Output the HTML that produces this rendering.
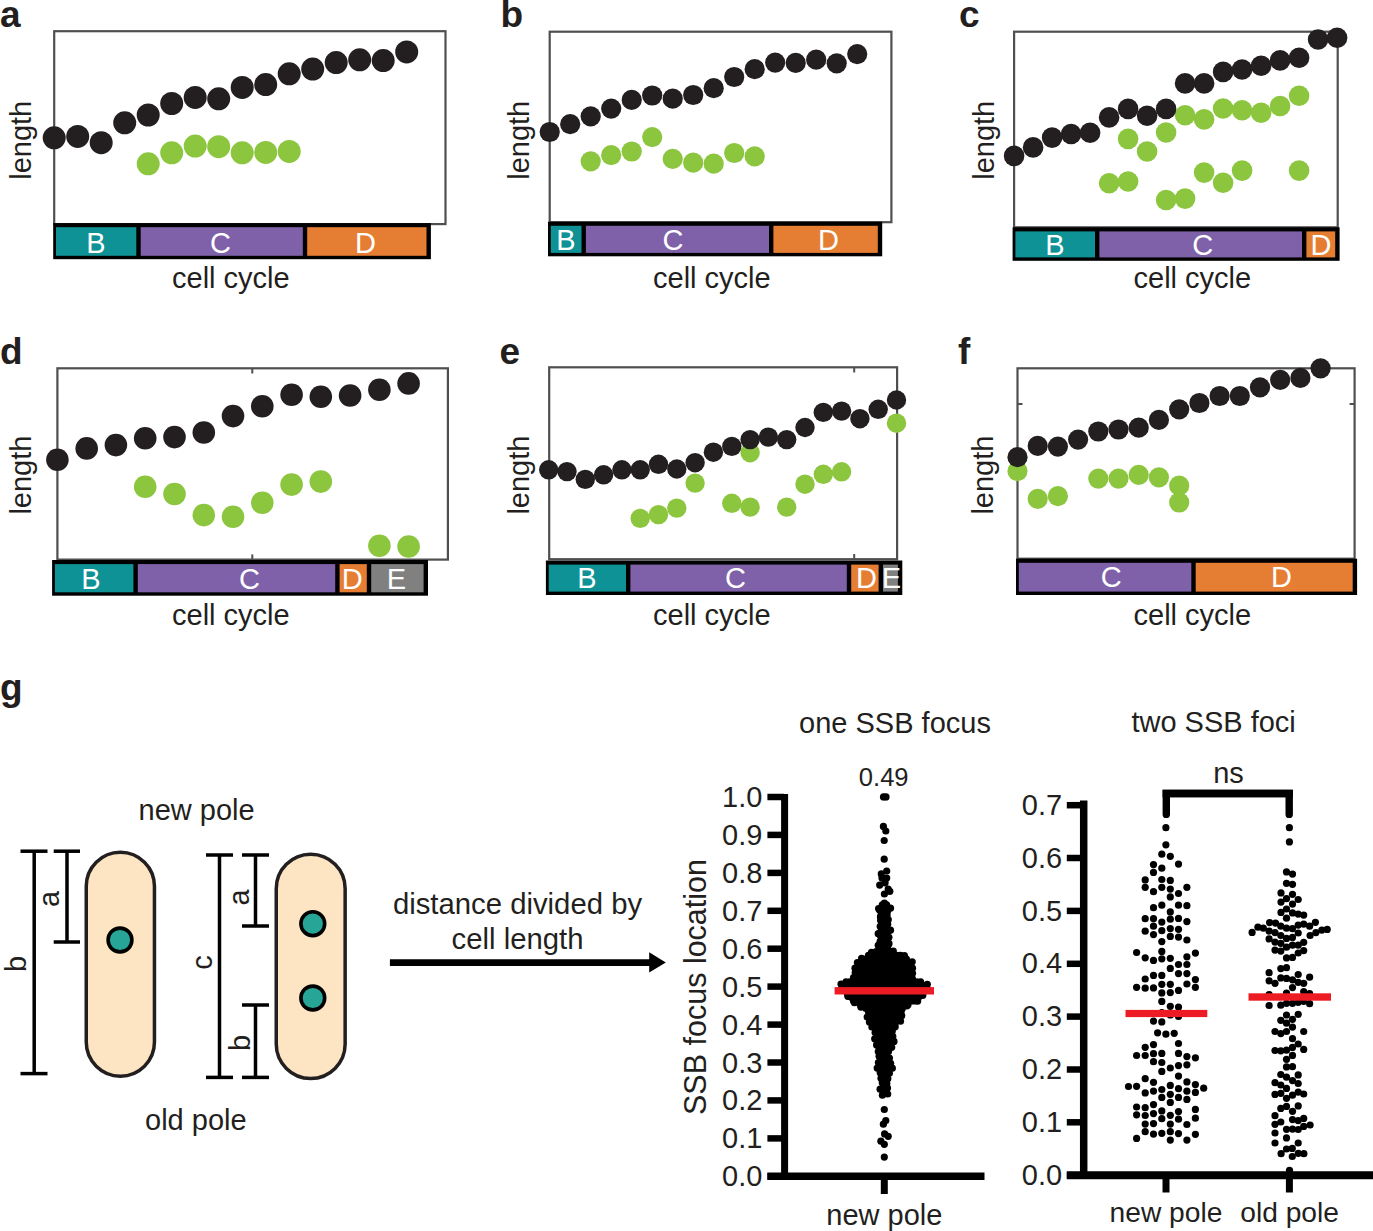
<!DOCTYPE html>
<html><head><meta charset="utf-8"><style>
html,body{margin:0;padding:0;background:#fff;}
svg{display:block;}
text{font-family:"Liberation Sans",sans-serif;}
</style></head><body>
<svg width="1373" height="1231" viewBox="0 0 1373 1231">
<rect width="1373" height="1231" fill="#fff"/>
<rect x="54.2" y="31.2" width="391.3" height="192.9" fill="none" stroke="#4f4f50" stroke-width="2.2"/>
<circle cx="148.2" cy="163.8" r="11.5" fill="#8cc63f"/>
<circle cx="171.7" cy="152.8" r="11.5" fill="#8cc63f"/>
<circle cx="195.2" cy="146.1" r="11.5" fill="#8cc63f"/>
<circle cx="218.7" cy="146.7" r="11.5" fill="#8cc63f"/>
<circle cx="242.2" cy="152.8" r="11.5" fill="#8cc63f"/>
<circle cx="265.7" cy="152.4" r="11.5" fill="#8cc63f"/>
<circle cx="289.2" cy="151.4" r="11.5" fill="#8cc63f"/>
<circle cx="54.2" cy="137.8" r="11.5" fill="#231f20"/>
<circle cx="77.7" cy="136.4" r="11.5" fill="#231f20"/>
<circle cx="101.2" cy="142.7" r="11.5" fill="#231f20"/>
<circle cx="124.7" cy="122.8" r="11.5" fill="#231f20"/>
<circle cx="148.2" cy="115" r="11.5" fill="#231f20"/>
<circle cx="171.7" cy="103.5" r="11.5" fill="#231f20"/>
<circle cx="195.2" cy="97.4" r="11.5" fill="#231f20"/>
<circle cx="218.7" cy="98.8" r="11.5" fill="#231f20"/>
<circle cx="242.2" cy="87.4" r="11.5" fill="#231f20"/>
<circle cx="265.7" cy="84.6" r="11.5" fill="#231f20"/>
<circle cx="289.2" cy="73.8" r="11.5" fill="#231f20"/>
<circle cx="312.7" cy="69.1" r="11.5" fill="#231f20"/>
<circle cx="336.2" cy="62.6" r="11.5" fill="#231f20"/>
<circle cx="359.7" cy="59.8" r="11.5" fill="#231f20"/>
<circle cx="383.2" cy="60.6" r="11.5" fill="#231f20"/>
<circle cx="406.7" cy="51.9" r="11.5" fill="#231f20"/>
<rect x="53.2" y="223.1" width="377.7" height="36.1" fill="#000"/>
<rect x="56.0" y="227.2" width="80.3" height="28.6" fill="#0e9295"/>
<text x="95.8" y="253.0" font-size="29" text-anchor="middle" font-weight="normal" fill="#fff" >B</text>
<rect x="140.7" y="227.2" width="162.1" height="28.6" fill="#7f61aa"/>
<text x="220.4" y="253.0" font-size="29" text-anchor="middle" font-weight="normal" fill="#fff" >C</text>
<rect x="307.2" y="227.2" width="119.3" height="28.6" fill="#e57d32"/>
<text x="365.4" y="253.0" font-size="29" text-anchor="middle" font-weight="normal" fill="#fff" >D</text>
<text x="0.0" y="26.7" font-size="37" text-anchor="start" font-weight="bold" fill="#231f20" >a</text>
<text x="172.0" y="287.9" font-size="29" text-anchor="start" font-weight="normal" fill="#231f20" >cell cycle</text>
<text x="0.0" y="0.0" font-size="29" text-anchor="middle" font-weight="normal" fill="#231f20" transform="translate(30.9,140.3) rotate(-90)">length</text>
<rect x="549.7" y="31.7" width="341.69999999999993" height="190.5" fill="none" stroke="#4f4f50" stroke-width="2.2"/>
<circle cx="590.7" cy="161.3" r="10.1" fill="#8cc63f"/>
<circle cx="611.2" cy="155.2" r="10.1" fill="#8cc63f"/>
<circle cx="631.7" cy="151.5" r="10.1" fill="#8cc63f"/>
<circle cx="652.2" cy="137.1" r="10.1" fill="#8cc63f"/>
<circle cx="672.7" cy="158.8" r="10.1" fill="#8cc63f"/>
<circle cx="693.2" cy="162.7" r="10.1" fill="#8cc63f"/>
<circle cx="713.7" cy="163.7" r="10.1" fill="#8cc63f"/>
<circle cx="734.2" cy="153.0" r="10.1" fill="#8cc63f"/>
<circle cx="754.7" cy="156.4" r="10.1" fill="#8cc63f"/>
<circle cx="549.7" cy="132.0" r="10.1" fill="#231f20"/>
<circle cx="570.2" cy="124.2" r="10.1" fill="#231f20"/>
<circle cx="590.7" cy="116.4" r="10.1" fill="#231f20"/>
<circle cx="611.2" cy="108.6" r="10.1" fill="#231f20"/>
<circle cx="631.7" cy="99.9" r="10.1" fill="#231f20"/>
<circle cx="652.2" cy="95.5" r="10.1" fill="#231f20"/>
<circle cx="672.7" cy="98.7" r="10.1" fill="#231f20"/>
<circle cx="693.2" cy="95.0" r="10.1" fill="#231f20"/>
<circle cx="713.7" cy="88.2" r="10.1" fill="#231f20"/>
<circle cx="734.2" cy="77.0" r="10.1" fill="#231f20"/>
<circle cx="754.7" cy="69.2" r="10.1" fill="#231f20"/>
<circle cx="775.2" cy="62.6" r="10.1" fill="#231f20"/>
<circle cx="795.7" cy="62.9" r="10.1" fill="#231f20"/>
<circle cx="816.2" cy="59.7" r="10.1" fill="#231f20"/>
<circle cx="836.7" cy="63.3" r="10.1" fill="#231f20"/>
<circle cx="857.2" cy="54.1" r="10.1" fill="#231f20"/>
<rect x="548.0" y="221.7" width="334.2" height="34.6" fill="#000"/>
<rect x="550.8" y="225.8" width="30.7" height="27.1" fill="#0e9295"/>
<text x="565.9" y="250.2" font-size="29" text-anchor="middle" font-weight="normal" fill="#fff" >B</text>
<rect x="585.9" y="225.8" width="183.1" height="27.1" fill="#7f61aa"/>
<text x="673.1" y="250.2" font-size="29" text-anchor="middle" font-weight="normal" fill="#fff" >C</text>
<rect x="773.4" y="225.8" width="104.4" height="27.1" fill="#e57d32"/>
<text x="828.6" y="250.2" font-size="29" text-anchor="middle" font-weight="normal" fill="#fff" >D</text>
<text x="500.5" y="26.7" font-size="37" text-anchor="start" font-weight="bold" fill="#231f20" >b</text>
<text x="653.0" y="287.5" font-size="29" text-anchor="start" font-weight="normal" fill="#231f20" >cell cycle</text>
<text x="0.0" y="0.0" font-size="29" text-anchor="middle" font-weight="normal" fill="#231f20" transform="translate(529.1,140.3) rotate(-90)">length</text>
<rect x="1014.1" y="31.7" width="323.6" height="195.60000000000002" fill="none" stroke="#4f4f50" stroke-width="2.2"/>
<circle cx="1128.1" cy="138.9" r="10.3" fill="#8cc63f"/>
<circle cx="1147.1" cy="151.5" r="10.3" fill="#8cc63f"/>
<circle cx="1166.1" cy="132.5" r="10.3" fill="#8cc63f"/>
<circle cx="1185.1" cy="115.3" r="10.3" fill="#8cc63f"/>
<circle cx="1204.1" cy="119.4" r="10.3" fill="#8cc63f"/>
<circle cx="1223.1" cy="108.5" r="10.3" fill="#8cc63f"/>
<circle cx="1242.1" cy="110.2" r="10.3" fill="#8cc63f"/>
<circle cx="1261.1" cy="112.8" r="10.3" fill="#8cc63f"/>
<circle cx="1280.1" cy="106.0" r="10.3" fill="#8cc63f"/>
<circle cx="1299.1" cy="95.8" r="10.3" fill="#8cc63f"/>
<circle cx="1109.1" cy="183.2" r="10.3" fill="#8cc63f"/>
<circle cx="1128.1" cy="181.5" r="10.3" fill="#8cc63f"/>
<circle cx="1166.1" cy="200.0" r="10.3" fill="#8cc63f"/>
<circle cx="1185.1" cy="198.6" r="10.3" fill="#8cc63f"/>
<circle cx="1204.1" cy="172.6" r="10.3" fill="#8cc63f"/>
<circle cx="1223.1" cy="182.8" r="10.3" fill="#8cc63f"/>
<circle cx="1242.1" cy="170.6" r="10.3" fill="#8cc63f"/>
<circle cx="1299.1" cy="170.6" r="10.3" fill="#8cc63f"/>
<circle cx="1014.1" cy="155.9" r="10.3" fill="#231f20"/>
<circle cx="1033.1" cy="147.4" r="10.3" fill="#231f20"/>
<circle cx="1052.1" cy="137.6" r="10.3" fill="#231f20"/>
<circle cx="1071.1" cy="134.0" r="10.3" fill="#231f20"/>
<circle cx="1090.1" cy="132.8" r="10.3" fill="#231f20"/>
<circle cx="1109.1" cy="117.4" r="10.3" fill="#231f20"/>
<circle cx="1128.1" cy="108.9" r="10.3" fill="#231f20"/>
<circle cx="1147.1" cy="115.7" r="10.3" fill="#231f20"/>
<circle cx="1166.1" cy="108.9" r="10.3" fill="#231f20"/>
<circle cx="1185.1" cy="83.4" r="10.3" fill="#231f20"/>
<circle cx="1204.1" cy="83.4" r="10.3" fill="#231f20"/>
<circle cx="1223.1" cy="71.9" r="10.3" fill="#231f20"/>
<circle cx="1242.1" cy="69.5" r="10.3" fill="#231f20"/>
<circle cx="1261.1" cy="65.8" r="10.3" fill="#231f20"/>
<circle cx="1280.1" cy="60.4" r="10.3" fill="#231f20"/>
<circle cx="1299.1" cy="57.8" r="10.3" fill="#231f20"/>
<circle cx="1318.1" cy="39.5" r="10.3" fill="#231f20"/>
<circle cx="1337.1" cy="37.8" r="10.3" fill="#231f20"/>
<rect x="1012.6" y="227.3" width="327.0" height="33.5" fill="#000"/>
<rect x="1015.4" y="231.4" width="79.6" height="26.0" fill="#0e9295"/>
<text x="1054.9" y="255.0" font-size="29" text-anchor="middle" font-weight="normal" fill="#fff" >B</text>
<rect x="1099.4" y="231.4" width="202.6" height="26.0" fill="#7f61aa"/>
<text x="1202.7" y="255.0" font-size="29" text-anchor="middle" font-weight="normal" fill="#fff" >C</text>
<rect x="1306.4" y="231.4" width="28.8" height="26.0" fill="#e57d32"/>
<text x="1320.9" y="255.0" font-size="29" text-anchor="middle" font-weight="normal" fill="#fff" >D</text>
<text x="959.0" y="26.7" font-size="37" text-anchor="start" font-weight="bold" fill="#231f20" >c</text>
<text x="1133.5" y="287.6" font-size="29" text-anchor="start" font-weight="normal" fill="#231f20" >cell cycle</text>
<text x="0.0" y="0.0" font-size="29" text-anchor="middle" font-weight="normal" fill="#231f20" transform="translate(994,140.3) rotate(-90)">length</text>
<rect x="57.4" y="368.3" width="390.5" height="191.3" fill="none" stroke="#4f4f50" stroke-width="2.2"/>
<line x1="252.3" y1="368.3" x2="252.3" y2="373.5" stroke="#4f4f50" stroke-width="2"/>
<line x1="252.3" y1="559.6" x2="252.3" y2="554.4" stroke="#4f4f50" stroke-width="2"/>
<circle cx="145.2" cy="486.7" r="11.3" fill="#8cc63f"/>
<circle cx="174.5" cy="494.0" r="11.3" fill="#8cc63f"/>
<circle cx="203.8" cy="515.1" r="11.3" fill="#8cc63f"/>
<circle cx="233.0" cy="516.8" r="11.3" fill="#8cc63f"/>
<circle cx="262.3" cy="502.7" r="11.3" fill="#8cc63f"/>
<circle cx="291.6" cy="484.6" r="11.3" fill="#8cc63f"/>
<circle cx="320.8" cy="481.6" r="11.3" fill="#8cc63f"/>
<circle cx="379.4" cy="545.8" r="11.3" fill="#8cc63f"/>
<circle cx="408.6" cy="546.5" r="11.3" fill="#8cc63f"/>
<circle cx="57.4" cy="459.7" r="11.3" fill="#231f20"/>
<circle cx="86.7" cy="448.4" r="11.3" fill="#231f20"/>
<circle cx="115.9" cy="445.1" r="11.3" fill="#231f20"/>
<circle cx="145.2" cy="438.3" r="11.3" fill="#231f20"/>
<circle cx="174.5" cy="437.1" r="11.3" fill="#231f20"/>
<circle cx="203.8" cy="432.5" r="11.3" fill="#231f20"/>
<circle cx="233.0" cy="416.1" r="11.3" fill="#231f20"/>
<circle cx="262.3" cy="406.3" r="11.3" fill="#231f20"/>
<circle cx="291.6" cy="394.7" r="11.3" fill="#231f20"/>
<circle cx="320.8" cy="396.7" r="11.3" fill="#231f20"/>
<circle cx="350.1" cy="395.5" r="11.3" fill="#231f20"/>
<circle cx="379.4" cy="389.7" r="11.3" fill="#231f20"/>
<circle cx="408.6" cy="383.4" r="11.3" fill="#231f20"/>
<rect x="52.1" y="560" width="375.9" height="35.7" fill="#000"/>
<rect x="54.9" y="564.1" width="78.5" height="28.2" fill="#0e9295"/>
<text x="90.8" y="589.1" font-size="29" text-anchor="middle" font-weight="normal" fill="#fff" >B</text>
<rect x="137.8" y="564.1" width="197.4" height="28.2" fill="#7f61aa"/>
<text x="249.5" y="589.1" font-size="29" text-anchor="middle" font-weight="normal" fill="#fff" >C</text>
<rect x="339.6" y="564.1" width="27.2" height="28.2" fill="#e57d32"/>
<text x="352.2" y="589.1" font-size="29" text-anchor="middle" font-weight="normal" fill="#fff" >D</text>
<rect x="371.2" y="564.1" width="52.4" height="28.2" fill="#808080"/>
<text x="396.5" y="589.1" font-size="29" text-anchor="middle" font-weight="normal" fill="#fff" >E</text>
<text x="0.0" y="364.0" font-size="37" text-anchor="start" font-weight="bold" fill="#231f20" >d</text>
<text x="172.0" y="625.3" font-size="29" text-anchor="start" font-weight="normal" fill="#231f20" >cell cycle</text>
<text x="0.0" y="0.0" font-size="29" text-anchor="middle" font-weight="normal" fill="#231f20" transform="translate(30.9,475.1) rotate(-90)">length</text>
<rect x="549.2" y="367.3" width="347.9" height="191.90000000000003" fill="none" stroke="#4f4f50" stroke-width="2.2"/>
<line x1="854.2" y1="367.3" x2="854.2" y2="372.5" stroke="#4f4f50" stroke-width="2"/>
<line x1="854.2" y1="559.2" x2="854.2" y2="554" stroke="#4f4f50" stroke-width="2"/>
<circle cx="640.2" cy="518.4" r="9.7" fill="#8cc63f"/>
<circle cx="658.5" cy="514.6" r="9.7" fill="#8cc63f"/>
<circle cx="676.8" cy="508.1" r="9.7" fill="#8cc63f"/>
<circle cx="695.1" cy="483.1" r="9.7" fill="#8cc63f"/>
<circle cx="731.8" cy="503.3" r="9.7" fill="#8cc63f"/>
<circle cx="750.1" cy="507.1" r="9.7" fill="#8cc63f"/>
<circle cx="750.1" cy="452.7" r="9.7" fill="#8cc63f"/>
<circle cx="786.7" cy="507.1" r="9.7" fill="#8cc63f"/>
<circle cx="805.0" cy="484.2" r="9.7" fill="#8cc63f"/>
<circle cx="823.3" cy="474.3" r="9.7" fill="#8cc63f"/>
<circle cx="841.6" cy="471.8" r="9.7" fill="#8cc63f"/>
<circle cx="896.5" cy="423.2" r="9.7" fill="#8cc63f"/>
<circle cx="548.7" cy="469.8" r="9.7" fill="#231f20"/>
<circle cx="567.0" cy="471.6" r="9.7" fill="#231f20"/>
<circle cx="585.3" cy="479.4" r="9.7" fill="#231f20"/>
<circle cx="603.6" cy="474.8" r="9.7" fill="#231f20"/>
<circle cx="621.9" cy="469.8" r="9.7" fill="#231f20"/>
<circle cx="640.2" cy="469.8" r="9.7" fill="#231f20"/>
<circle cx="658.5" cy="464.3" r="9.7" fill="#231f20"/>
<circle cx="676.8" cy="469.0" r="9.7" fill="#231f20"/>
<circle cx="695.1" cy="462.7" r="9.7" fill="#231f20"/>
<circle cx="713.4" cy="452.2" r="9.7" fill="#231f20"/>
<circle cx="731.8" cy="446.4" r="9.7" fill="#231f20"/>
<circle cx="750.1" cy="439.6" r="9.7" fill="#231f20"/>
<circle cx="768.4" cy="437.1" r="9.7" fill="#231f20"/>
<circle cx="786.7" cy="439.6" r="9.7" fill="#231f20"/>
<circle cx="805.0" cy="427.5" r="9.7" fill="#231f20"/>
<circle cx="823.3" cy="412.4" r="9.7" fill="#231f20"/>
<circle cx="841.6" cy="411.1" r="9.7" fill="#231f20"/>
<circle cx="859.9" cy="418.7" r="9.7" fill="#231f20"/>
<circle cx="878.2" cy="409.3" r="9.7" fill="#231f20"/>
<circle cx="896.5" cy="400.0" r="9.7" fill="#231f20"/>
<rect x="545.9" y="560.5" width="356.4" height="34.5" fill="#000"/>
<rect x="548.7" y="564.6" width="77.3" height="27.0" fill="#0e9295"/>
<text x="587.0" y="588.0" font-size="29" text-anchor="middle" font-weight="normal" fill="#fff" >B</text>
<rect x="630.4" y="564.6" width="216.4" height="27.0" fill="#7f61aa"/>
<text x="735.6" y="588.0" font-size="29" text-anchor="middle" font-weight="normal" fill="#fff" >C</text>
<rect x="851.2" y="564.6" width="27.4" height="27.0" fill="#e57d32"/>
<text x="866.4" y="588.0" font-size="29" text-anchor="middle" font-weight="normal" fill="#fff" >D</text>
<rect x="883.0" y="564.6" width="14.9" height="27.0" fill="#808080"/>
<text x="891.5" y="588.0" font-size="29" text-anchor="middle" font-weight="normal" fill="#fff" >E</text>
<text x="499.5" y="364.0" font-size="37" text-anchor="start" font-weight="bold" fill="#231f20" >e</text>
<text x="653.0" y="625.3" font-size="29" text-anchor="start" font-weight="normal" fill="#231f20" >cell cycle</text>
<text x="0.0" y="0.0" font-size="29" text-anchor="middle" font-weight="normal" fill="#231f20" transform="translate(528.8,475.1) rotate(-90)">length</text>
<rect x="1017.5" y="368.3" width="337.0999999999999" height="190.40000000000003" fill="none" stroke="#4f4f50" stroke-width="2.2"/>
<line x1="1017.5" y1="404" x2="1022.5" y2="404" stroke="#4f4f50" stroke-width="2"/>
<line x1="1354.6" y1="404" x2="1349.6" y2="404" stroke="#4f4f50" stroke-width="2"/>
<circle cx="1017.5" cy="471.1" r="10.1" fill="#8cc63f"/>
<circle cx="1037.7" cy="498.8" r="10.1" fill="#8cc63f"/>
<circle cx="1057.9" cy="496.2" r="10.1" fill="#8cc63f"/>
<circle cx="1098.3" cy="478.6" r="10.1" fill="#8cc63f"/>
<circle cx="1118.5" cy="478.6" r="10.1" fill="#8cc63f"/>
<circle cx="1138.7" cy="474.8" r="10.1" fill="#8cc63f"/>
<circle cx="1158.9" cy="477.4" r="10.1" fill="#8cc63f"/>
<circle cx="1179.2" cy="485.7" r="10.1" fill="#8cc63f"/>
<circle cx="1179.2" cy="502.5" r="10.1" fill="#8cc63f"/>
<circle cx="1017.5" cy="457.2" r="10.1" fill="#231f20"/>
<circle cx="1037.7" cy="445.9" r="10.1" fill="#231f20"/>
<circle cx="1057.9" cy="446.6" r="10.1" fill="#231f20"/>
<circle cx="1078.1" cy="439.6" r="10.1" fill="#231f20"/>
<circle cx="1098.3" cy="431.5" r="10.1" fill="#231f20"/>
<circle cx="1118.5" cy="429.5" r="10.1" fill="#231f20"/>
<circle cx="1138.7" cy="427.7" r="10.1" fill="#231f20"/>
<circle cx="1158.9" cy="419.9" r="10.1" fill="#231f20"/>
<circle cx="1179.2" cy="409.3" r="10.1" fill="#231f20"/>
<circle cx="1199.4" cy="403.0" r="10.1" fill="#231f20"/>
<circle cx="1219.6" cy="396.0" r="10.1" fill="#231f20"/>
<circle cx="1239.8" cy="396.0" r="10.1" fill="#231f20"/>
<circle cx="1260.0" cy="387.4" r="10.1" fill="#231f20"/>
<circle cx="1280.2" cy="379.9" r="10.1" fill="#231f20"/>
<circle cx="1300.4" cy="377.9" r="10.1" fill="#231f20"/>
<circle cx="1320.6" cy="368.3" r="10.1" fill="#231f20"/>
<rect x="1016.0" y="558.7" width="341.1" height="36.3" fill="#000"/>
<rect x="1018.8" y="562.8" width="172.5" height="28.8" fill="#7f61aa"/>
<text x="1111.2" y="586.5" font-size="29" text-anchor="middle" font-weight="normal" fill="#fff" >C</text>
<rect x="1195.7" y="562.8" width="157.0" height="28.8" fill="#e57d32"/>
<text x="1281.5" y="586.5" font-size="29" text-anchor="middle" font-weight="normal" fill="#fff" >D</text>
<text x="958.0" y="364.0" font-size="37" text-anchor="start" font-weight="bold" fill="#231f20" >f</text>
<text x="1133.5" y="625.3" font-size="29" text-anchor="start" font-weight="normal" fill="#231f20" >cell cycle</text>
<text x="0.0" y="0.0" font-size="29" text-anchor="middle" font-weight="normal" fill="#231f20" transform="translate(992.9,475.1) rotate(-90)">length</text>
<text x="0.0" y="699.5" font-size="37" text-anchor="start" font-weight="bold" fill="#231f20" >g</text>
<rect x="86.25" y="852.25" width="68.19999999999999" height="223.9000000000001" rx="34.099999999999994" ry="34.099999999999994" fill="#fde5c3" stroke="#231f20" stroke-width="3.5"/>
<rect x="276.25" y="854.25" width="68.89999999999998" height="224.29999999999995" rx="34.44999999999999" ry="34.44999999999999" fill="#fde5c3" stroke="#231f20" stroke-width="3.5"/>
<circle cx="120" cy="940" r="11.9" fill="#27a597" stroke="#000" stroke-width="3.6"/>
<circle cx="312.8" cy="923.7" r="11.9" fill="#27a597" stroke="#000" stroke-width="3.6"/>
<circle cx="312.8" cy="998" r="11.9" fill="#27a597" stroke="#000" stroke-width="3.6"/>
<line x1="34.2" y1="851.2" x2="34.2" y2="1073.6" stroke="#000" stroke-width="3.5"/>
<line x1="20.5" y1="851.2" x2="47.5" y2="851.2" stroke="#000" stroke-width="3.5"/>
<line x1="20.5" y1="1073.6" x2="47.5" y2="1073.6" stroke="#000" stroke-width="3.5"/>
<line x1="67" y1="851.2" x2="67" y2="942" stroke="#000" stroke-width="3.5"/>
<line x1="53.7" y1="851.2" x2="80" y2="851.2" stroke="#000" stroke-width="3.5"/>
<line x1="53.7" y1="942" x2="80" y2="942" stroke="#000" stroke-width="3.5"/>
<line x1="219.5" y1="855" x2="219.5" y2="1077.4" stroke="#000" stroke-width="3.5"/>
<line x1="206" y1="855" x2="233" y2="855" stroke="#000" stroke-width="3.5"/>
<line x1="206" y1="1077.4" x2="233" y2="1077.4" stroke="#000" stroke-width="3.5"/>
<line x1="255.5" y1="855" x2="255.5" y2="926" stroke="#000" stroke-width="3.5"/>
<line x1="242" y1="855" x2="269" y2="855" stroke="#000" stroke-width="3.5"/>
<line x1="242" y1="926" x2="269" y2="926" stroke="#000" stroke-width="3.5"/>
<line x1="255.5" y1="1005" x2="255.5" y2="1077.4" stroke="#000" stroke-width="3.5"/>
<line x1="242" y1="1005" x2="269" y2="1005" stroke="#000" stroke-width="3.5"/>
<line x1="242" y1="1077.4" x2="269" y2="1077.4" stroke="#000" stroke-width="3.5"/>
<text x="0.0" y="0.0" font-size="29" text-anchor="middle" font-weight="normal" fill="#231f20" transform="translate(58.5,899) rotate(-90)">a</text>
<text x="0.0" y="0.0" font-size="29" text-anchor="middle" font-weight="normal" fill="#231f20" transform="translate(25.5,964) rotate(-90)">b</text>
<text x="0.0" y="0.0" font-size="29" text-anchor="middle" font-weight="normal" fill="#231f20" transform="translate(211.5,962.5) rotate(-90)">c</text>
<text x="0.0" y="0.0" font-size="29" text-anchor="middle" font-weight="normal" fill="#231f20" transform="translate(248.5,897.5) rotate(-90)">a</text>
<text x="0.0" y="0.0" font-size="29" text-anchor="middle" font-weight="normal" fill="#231f20" transform="translate(249.5,1043) rotate(-90)">b</text>
<text x="138.6" y="820.0" font-size="29" text-anchor="start" font-weight="normal" fill="#231f20" >new pole</text>
<text x="145.0" y="1130.0" font-size="29" text-anchor="start" font-weight="normal" fill="#231f20" >old pole</text>
<text x="517.5" y="913.7" font-size="29.3" text-anchor="middle" font-weight="normal" fill="#231f20" >distance divided by</text>
<text x="517.5" y="948.7" font-size="29.3" text-anchor="middle" font-weight="normal" fill="#231f20" >cell length</text>
<line x1="389.9" y1="962.6" x2="652" y2="962.6" stroke="#000" stroke-width="6.7"/>
<polygon points="649.2,952.2 665.8,962.4 649.2,972.6" fill="#000"/>
<text x="895.0" y="732.5" font-size="29" text-anchor="middle" font-weight="normal" fill="#231f20" >one SSB focus</text>
<text x="883.7" y="785.8" font-size="25.6" text-anchor="middle" font-weight="normal" fill="#231f20" >0.49</text>
<line x1="784.6" y1="794" x2="784.6" y2="1180" stroke="#000" stroke-width="7"/>
<line x1="767.4" y1="797.0" x2="784" y2="797.0" stroke="#000" stroke-width="6.5"/>
<text x="762.4" y="807.0" font-size="29" text-anchor="end" font-weight="normal" fill="#231f20" >1.0</text>
<line x1="767.4" y1="834.9" x2="784" y2="834.9" stroke="#000" stroke-width="6.5"/>
<text x="762.4" y="844.9" font-size="29" text-anchor="end" font-weight="normal" fill="#231f20" >0.9</text>
<line x1="767.4" y1="872.9" x2="784" y2="872.9" stroke="#000" stroke-width="6.5"/>
<text x="762.4" y="882.9" font-size="29" text-anchor="end" font-weight="normal" fill="#231f20" >0.8</text>
<line x1="767.4" y1="910.8" x2="784" y2="910.8" stroke="#000" stroke-width="6.5"/>
<text x="762.4" y="920.8" font-size="29" text-anchor="end" font-weight="normal" fill="#231f20" >0.7</text>
<line x1="767.4" y1="948.7" x2="784" y2="948.7" stroke="#000" stroke-width="6.5"/>
<text x="762.4" y="958.7" font-size="29" text-anchor="end" font-weight="normal" fill="#231f20" >0.6</text>
<line x1="767.4" y1="986.6" x2="784" y2="986.6" stroke="#000" stroke-width="6.5"/>
<text x="762.4" y="996.6" font-size="29" text-anchor="end" font-weight="normal" fill="#231f20" >0.5</text>
<line x1="767.4" y1="1024.6" x2="784" y2="1024.6" stroke="#000" stroke-width="6.5"/>
<text x="762.4" y="1034.6" font-size="29" text-anchor="end" font-weight="normal" fill="#231f20" >0.4</text>
<line x1="767.4" y1="1062.5" x2="784" y2="1062.5" stroke="#000" stroke-width="6.5"/>
<text x="762.4" y="1072.5" font-size="29" text-anchor="end" font-weight="normal" fill="#231f20" >0.3</text>
<line x1="767.4" y1="1100.4" x2="784" y2="1100.4" stroke="#000" stroke-width="6.5"/>
<text x="762.4" y="1110.4" font-size="29" text-anchor="end" font-weight="normal" fill="#231f20" >0.2</text>
<line x1="767.4" y1="1138.4" x2="784" y2="1138.4" stroke="#000" stroke-width="6.5"/>
<text x="762.4" y="1148.4" font-size="29" text-anchor="end" font-weight="normal" fill="#231f20" >0.1</text>
<line x1="767.4" y1="1176.3" x2="784" y2="1176.3" stroke="#000" stroke-width="6.5"/>
<text x="762.4" y="1186.3" font-size="29" text-anchor="end" font-weight="normal" fill="#231f20" >0.0</text>
<line x1="767.4" y1="1176.3" x2="984.5" y2="1176.3" stroke="#000" stroke-width="7.5"/>
<line x1="884.3" y1="1176" x2="884.3" y2="1194" stroke="#000" stroke-width="7"/>
<text x="884.3" y="1224.8" font-size="29" text-anchor="middle" font-weight="normal" fill="#231f20" >new pole</text>
<text x="0.0" y="0.0" font-size="30.5" text-anchor="middle" font-weight="normal" fill="#231f20" transform="translate(705.5,987) rotate(-90)">SSB focus location</text>
<text x="1213.6" y="732.3" font-size="29" text-anchor="middle" font-weight="normal" fill="#231f20" >two SSB foci</text>
<text x="1228.5" y="783.0" font-size="29" text-anchor="middle" font-weight="normal" fill="#231f20" >ns</text>
<path d="M1166.3,814.4 V793.5 H1289.2 V814.4" fill="none" stroke="#000" stroke-width="7.4" stroke-linecap="round"/>
<path d="M1162.6,793.5 H1292.9" fill="none" stroke="#000" stroke-width="7.4"/>
<line x1="1083.7" y1="800.5" x2="1083.7" y2="1179" stroke="#000" stroke-width="7.5"/>
<line x1="1066.8" y1="1175.2" x2="1083" y2="1175.2" stroke="#000" stroke-width="6.5"/>
<text x="1062.2" y="1184.8" font-size="29" text-anchor="end" font-weight="normal" fill="#231f20" >0.0</text>
<line x1="1066.8" y1="1122.3" x2="1083" y2="1122.3" stroke="#000" stroke-width="6.5"/>
<text x="1062.2" y="1131.9" font-size="29" text-anchor="end" font-weight="normal" fill="#231f20" >0.1</text>
<line x1="1066.8" y1="1069.5" x2="1083" y2="1069.5" stroke="#000" stroke-width="6.5"/>
<text x="1062.2" y="1079.1" font-size="29" text-anchor="end" font-weight="normal" fill="#231f20" >0.2</text>
<line x1="1066.8" y1="1016.6" x2="1083" y2="1016.6" stroke="#000" stroke-width="6.5"/>
<text x="1062.2" y="1026.2" font-size="29" text-anchor="end" font-weight="normal" fill="#231f20" >0.3</text>
<line x1="1066.8" y1="963.8" x2="1083" y2="963.8" stroke="#000" stroke-width="6.5"/>
<text x="1062.2" y="973.4" font-size="29" text-anchor="end" font-weight="normal" fill="#231f20" >0.4</text>
<line x1="1066.8" y1="910.9" x2="1083" y2="910.9" stroke="#000" stroke-width="6.5"/>
<text x="1062.2" y="920.5" font-size="29" text-anchor="end" font-weight="normal" fill="#231f20" >0.5</text>
<line x1="1066.8" y1="858.0" x2="1083" y2="858.0" stroke="#000" stroke-width="6.5"/>
<text x="1062.2" y="867.6" font-size="29" text-anchor="end" font-weight="normal" fill="#231f20" >0.6</text>
<line x1="1066.8" y1="805.2" x2="1083" y2="805.2" stroke="#000" stroke-width="6.5"/>
<text x="1062.2" y="814.8" font-size="29" text-anchor="end" font-weight="normal" fill="#231f20" >0.7</text>
<line x1="1066.8" y1="1175.2" x2="1373" y2="1175.2" stroke="#000" stroke-width="8"/>
<line x1="1166.0" y1="1175" x2="1166.0" y2="1192.5" stroke="#000" stroke-width="7.0"/>
<line x1="1289.4" y1="1175" x2="1289.4" y2="1192.5" stroke="#000" stroke-width="7.0"/>
<text x="1166.0" y="1222.3" font-size="28.2" text-anchor="middle" font-weight="normal" fill="#231f20" >new pole</text>
<text x="1289.6" y="1222.3" font-size="28.2" text-anchor="middle" font-weight="normal" fill="#231f20" >old pole</text>
<g fill="#000">
<circle cx="1165.9" cy="827.7" r="3.6"/>
<circle cx="1165.9" cy="844.8" r="3.6"/>
<circle cx="1161.8" cy="854.2" r="3.6"/>
<circle cx="1170.3" cy="856.3" r="3.6"/>
<circle cx="1153.5" cy="864.6" r="3.6"/>
<circle cx="1178.5" cy="864.1" r="3.6"/>
<circle cx="1161.8" cy="868.2" r="3.6"/>
<circle cx="1153.5" cy="872.4" r="3.6"/>
<circle cx="1145.2" cy="879.9" r="3.6"/>
<circle cx="1161.8" cy="879.5" r="3.6"/>
<circle cx="1170.3" cy="880.4" r="3.6"/>
<circle cx="1145.2" cy="887.3" r="3.6"/>
<circle cx="1161.8" cy="887.3" r="3.6"/>
<circle cx="1170.3" cy="889.1" r="3.6"/>
<circle cx="1186.9" cy="887.3" r="3.6"/>
<circle cx="1153.5" cy="891.7" r="3.6"/>
<circle cx="1178.5" cy="893.5" r="3.6"/>
<circle cx="1170.3" cy="896.9" r="3.6"/>
<circle cx="1161.8" cy="905.2" r="3.6"/>
<circle cx="1153.5" cy="907.7" r="3.6"/>
<circle cx="1178.5" cy="905.2" r="3.6"/>
<circle cx="1186.9" cy="905.7" r="3.6"/>
<circle cx="1170.3" cy="911.9" r="3.6"/>
<circle cx="1145.2" cy="918.7" r="3.6"/>
<circle cx="1153.5" cy="918.7" r="3.6"/>
<circle cx="1161.8" cy="922.1" r="3.6"/>
<circle cx="1170.3" cy="919.2" r="3.6"/>
<circle cx="1178.5" cy="918.4" r="3.6"/>
<circle cx="1186.9" cy="921.6" r="3.6"/>
<circle cx="1153.5" cy="926.2" r="3.6"/>
<circle cx="1145.2" cy="931.2" r="3.6"/>
<circle cx="1161.8" cy="930.7" r="3.6"/>
<circle cx="1170.3" cy="928.6" r="3.6"/>
<circle cx="1178.5" cy="929.3" r="3.6"/>
<circle cx="1153.5" cy="934.6" r="3.6"/>
<circle cx="1170.3" cy="936.4" r="3.6"/>
<circle cx="1178.5" cy="937.1" r="3.6"/>
<circle cx="1186.9" cy="940.0" r="3.6"/>
<circle cx="1161.8" cy="941.6" r="3.6"/>
<circle cx="1136.6" cy="952.5" r="3.6"/>
<circle cx="1161.8" cy="951.4" r="3.6"/>
<circle cx="1195.4" cy="953.1" r="3.6"/>
<circle cx="1145.2" cy="957.8" r="3.6"/>
<circle cx="1153.5" cy="960.4" r="3.6"/>
<circle cx="1161.8" cy="958.8" r="3.6"/>
<circle cx="1170.3" cy="958.3" r="3.6"/>
<circle cx="1186.9" cy="956.8" r="3.6"/>
<circle cx="1178.5" cy="964.5" r="3.6"/>
<circle cx="1186.9" cy="964.5" r="3.6"/>
<circle cx="1170.3" cy="968.4" r="3.6"/>
<circle cx="1153.5" cy="975.4" r="3.6"/>
<circle cx="1161.8" cy="975.4" r="3.6"/>
<circle cx="1178.5" cy="973.6" r="3.6"/>
<circle cx="1186.9" cy="973.6" r="3.6"/>
<circle cx="1145.2" cy="979.0" r="3.6"/>
<circle cx="1195.4" cy="979.6" r="3.6"/>
<circle cx="1136.6" cy="987.3" r="3.6"/>
<circle cx="1145.2" cy="988.2" r="3.6"/>
<circle cx="1153.5" cy="987.9" r="3.6"/>
<circle cx="1161.8" cy="984.3" r="3.6"/>
<circle cx="1170.3" cy="984.3" r="3.6"/>
<circle cx="1186.9" cy="984.0" r="3.6"/>
<circle cx="1195.4" cy="987.3" r="3.6"/>
<circle cx="1161.8" cy="992.9" r="3.6"/>
<circle cx="1170.3" cy="992.6" r="3.6"/>
<circle cx="1178.5" cy="990.4" r="3.6"/>
<circle cx="1161.8" cy="1001.4" r="3.6"/>
<circle cx="1170.3" cy="1006.3" r="3.6"/>
<circle cx="1178.5" cy="1007.0" r="3.6"/>
<circle cx="1161.8" cy="1012.6" r="3.6"/>
<circle cx="1170.3" cy="1015.0" r="3.6"/>
<circle cx="1178.5" cy="1016.5" r="3.6"/>
<circle cx="1153.5" cy="1021.1" r="3.6"/>
<circle cx="1161.8" cy="1021.9" r="3.6"/>
<circle cx="1157.6" cy="1032.8" r="3.6"/>
<circle cx="1165.9" cy="1034.2" r="3.6"/>
<circle cx="1174.2" cy="1033.3" r="3.6"/>
<circle cx="1153.5" cy="1044.6" r="3.6"/>
<circle cx="1145.2" cy="1047.3" r="3.6"/>
<circle cx="1178.5" cy="1043.5" r="3.6"/>
<circle cx="1136.6" cy="1055.5" r="3.6"/>
<circle cx="1145.2" cy="1055.5" r="3.6"/>
<circle cx="1153.5" cy="1053.7" r="3.6"/>
<circle cx="1161.8" cy="1053.4" r="3.6"/>
<circle cx="1178.5" cy="1053.4" r="3.6"/>
<circle cx="1186.9" cy="1056.6" r="3.6"/>
<circle cx="1195.4" cy="1057.8" r="3.6"/>
<circle cx="1153.5" cy="1061.7" r="3.6"/>
<circle cx="1161.8" cy="1062.5" r="3.6"/>
<circle cx="1170.3" cy="1068.0" r="3.6"/>
<circle cx="1178.5" cy="1065.6" r="3.6"/>
<circle cx="1186.9" cy="1064.8" r="3.6"/>
<circle cx="1161.8" cy="1071.4" r="3.6"/>
<circle cx="1178.5" cy="1076.1" r="3.6"/>
<circle cx="1145.2" cy="1078.7" r="3.6"/>
<circle cx="1153.5" cy="1082.3" r="3.6"/>
<circle cx="1186.9" cy="1081.9" r="3.6"/>
<circle cx="1128.5" cy="1086.5" r="3.6"/>
<circle cx="1136.6" cy="1086.3" r="3.6"/>
<circle cx="1170.3" cy="1085.4" r="3.6"/>
<circle cx="1195.4" cy="1084.6" r="3.6"/>
<circle cx="1203.7" cy="1088.2" r="3.6"/>
<circle cx="1161.8" cy="1089.5" r="3.6"/>
<circle cx="1178.5" cy="1088.7" r="3.6"/>
<circle cx="1145.2" cy="1092.9" r="3.6"/>
<circle cx="1153.5" cy="1091.1" r="3.6"/>
<circle cx="1170.3" cy="1094.3" r="3.6"/>
<circle cx="1186.9" cy="1091.2" r="3.6"/>
<circle cx="1195.4" cy="1092.4" r="3.6"/>
<circle cx="1161.8" cy="1097.4" r="3.6"/>
<circle cx="1178.5" cy="1097.4" r="3.6"/>
<circle cx="1186.9" cy="1099.4" r="3.6"/>
<circle cx="1170.3" cy="1102.4" r="3.6"/>
<circle cx="1153.5" cy="1104.6" r="3.6"/>
<circle cx="1136.6" cy="1107.0" r="3.6"/>
<circle cx="1145.2" cy="1107.7" r="3.6"/>
<circle cx="1195.4" cy="1109.4" r="3.6"/>
<circle cx="1161.8" cy="1110.9" r="3.6"/>
<circle cx="1178.5" cy="1111.6" r="3.6"/>
<circle cx="1136.6" cy="1114.8" r="3.6"/>
<circle cx="1145.2" cy="1115.5" r="3.6"/>
<circle cx="1153.5" cy="1113.6" r="3.6"/>
<circle cx="1170.3" cy="1115.3" r="3.6"/>
<circle cx="1161.8" cy="1118.7" r="3.6"/>
<circle cx="1178.5" cy="1119.2" r="3.6"/>
<circle cx="1195.4" cy="1118.2" r="3.6"/>
<circle cx="1145.2" cy="1124.1" r="3.6"/>
<circle cx="1153.5" cy="1123.6" r="3.6"/>
<circle cx="1170.3" cy="1124.1" r="3.6"/>
<circle cx="1186.9" cy="1124.5" r="3.6"/>
<circle cx="1145.2" cy="1131.7" r="3.6"/>
<circle cx="1153.5" cy="1134.1" r="3.6"/>
<circle cx="1161.8" cy="1133.3" r="3.6"/>
<circle cx="1170.3" cy="1131.7" r="3.6"/>
<circle cx="1178.5" cy="1133.6" r="3.6"/>
<circle cx="1195.4" cy="1134.3" r="3.6"/>
<circle cx="1136.6" cy="1138.4" r="3.6"/>
<circle cx="1170.3" cy="1140.1" r="3.6"/>
<circle cx="1186.9" cy="1140.1" r="3.6"/>
<circle cx="1289.4" cy="827.7" r="3.6"/>
<circle cx="1289.4" cy="841.9" r="3.6"/>
<circle cx="1286.5" cy="871.9" r="3.6"/>
<circle cx="1292.5" cy="874.1" r="3.6"/>
<circle cx="1286.5" cy="883.3" r="3.6"/>
<circle cx="1292.5" cy="884.3" r="3.6"/>
<circle cx="1281.0" cy="892.9" r="3.6"/>
<circle cx="1292.5" cy="894.3" r="3.6"/>
<circle cx="1286.5" cy="898.7" r="3.6"/>
<circle cx="1298.2" cy="899.5" r="3.6"/>
<circle cx="1281.0" cy="902.1" r="3.6"/>
<circle cx="1292.5" cy="904.1" r="3.6"/>
<circle cx="1286.5" cy="909.0" r="3.6"/>
<circle cx="1281.0" cy="912.4" r="3.6"/>
<circle cx="1292.5" cy="912.9" r="3.6"/>
<circle cx="1298.2" cy="914.1" r="3.6"/>
<circle cx="1303.7" cy="915.1" r="3.6"/>
<circle cx="1286.5" cy="918.2" r="3.6"/>
<circle cx="1269.6" cy="922.6" r="3.6"/>
<circle cx="1275.5" cy="923.1" r="3.6"/>
<circle cx="1315.4" cy="922.3" r="3.6"/>
<circle cx="1303.7" cy="924.1" r="3.6"/>
<circle cx="1298.2" cy="925.1" r="3.6"/>
<circle cx="1257.9" cy="927.2" r="3.6"/>
<circle cx="1263.3" cy="928.2" r="3.6"/>
<circle cx="1252.1" cy="932.4" r="3.6"/>
<circle cx="1269.1" cy="931.1" r="3.6"/>
<circle cx="1275.0" cy="932.6" r="3.6"/>
<circle cx="1280.8" cy="926.2" r="3.6"/>
<circle cx="1286.5" cy="928.2" r="3.6"/>
<circle cx="1292.5" cy="928.7" r="3.6"/>
<circle cx="1298.2" cy="933.0" r="3.6"/>
<circle cx="1309.6" cy="926.2" r="3.6"/>
<circle cx="1310.1" cy="935.5" r="3.6"/>
<circle cx="1315.9" cy="932.6" r="3.6"/>
<circle cx="1321.8" cy="930.1" r="3.6"/>
<circle cx="1327.2" cy="929.4" r="3.6"/>
<circle cx="1280.8" cy="935.5" r="3.6"/>
<circle cx="1286.5" cy="938.4" r="3.6"/>
<circle cx="1292.5" cy="937.4" r="3.6"/>
<circle cx="1269.1" cy="938.9" r="3.6"/>
<circle cx="1275.0" cy="942.1" r="3.6"/>
<circle cx="1280.8" cy="943.3" r="3.6"/>
<circle cx="1286.5" cy="947.2" r="3.6"/>
<circle cx="1292.5" cy="945.2" r="3.6"/>
<circle cx="1298.2" cy="945.2" r="3.6"/>
<circle cx="1303.7" cy="942.3" r="3.6"/>
<circle cx="1275.0" cy="950.1" r="3.6"/>
<circle cx="1280.8" cy="951.1" r="3.6"/>
<circle cx="1298.2" cy="953.0" r="3.6"/>
<circle cx="1303.7" cy="950.6" r="3.6"/>
<circle cx="1286.5" cy="957.9" r="3.6"/>
<circle cx="1292.5" cy="957.4" r="3.6"/>
<circle cx="1280.8" cy="968.6" r="3.6"/>
<circle cx="1286.5" cy="967.7" r="3.6"/>
<circle cx="1269.1" cy="972.7" r="3.6"/>
<circle cx="1298.2" cy="974.5" r="3.6"/>
<circle cx="1309.6" cy="977.2" r="3.6"/>
<circle cx="1280.8" cy="977.9" r="3.6"/>
<circle cx="1286.5" cy="978.4" r="3.6"/>
<circle cx="1292.5" cy="979.8" r="3.6"/>
<circle cx="1269.1" cy="980.8" r="3.6"/>
<circle cx="1275.0" cy="983.3" r="3.6"/>
<circle cx="1298.2" cy="982.3" r="3.6"/>
<circle cx="1303.7" cy="983.3" r="3.6"/>
<circle cx="1292.5" cy="987.6" r="3.6"/>
<circle cx="1286.5" cy="993.0" r="3.6"/>
<circle cx="1303.7" cy="991.5" r="3.6"/>
<circle cx="1309.6" cy="993.5" r="3.6"/>
<circle cx="1269.1" cy="994.5" r="3.6"/>
<circle cx="1280.8" cy="1005.2" r="3.6"/>
<circle cx="1286.5" cy="1003.3" r="3.6"/>
<circle cx="1292.5" cy="1003.3" r="3.6"/>
<circle cx="1298.2" cy="1002.3" r="3.6"/>
<circle cx="1303.7" cy="1001.3" r="3.6"/>
<circle cx="1309.6" cy="1003.7" r="3.6"/>
<circle cx="1269.1" cy="1005.5" r="3.6"/>
<circle cx="1286.5" cy="1015.0" r="3.6"/>
<circle cx="1298.2" cy="1014.3" r="3.6"/>
<circle cx="1280.8" cy="1020.3" r="3.6"/>
<circle cx="1292.5" cy="1019.3" r="3.6"/>
<circle cx="1286.5" cy="1023.2" r="3.6"/>
<circle cx="1292.5" cy="1027.1" r="3.6"/>
<circle cx="1275.0" cy="1031.5" r="3.6"/>
<circle cx="1286.5" cy="1031.5" r="3.6"/>
<circle cx="1303.7" cy="1031.5" r="3.6"/>
<circle cx="1280.8" cy="1033.6" r="3.6"/>
<circle cx="1292.5" cy="1038.7" r="3.6"/>
<circle cx="1298.2" cy="1044.0" r="3.6"/>
<circle cx="1292.5" cy="1047.4" r="3.6"/>
<circle cx="1275.0" cy="1050.5" r="3.6"/>
<circle cx="1280.8" cy="1050.8" r="3.6"/>
<circle cx="1286.5" cy="1050.2" r="3.6"/>
<circle cx="1303.7" cy="1049.4" r="3.6"/>
<circle cx="1292.5" cy="1055.4" r="3.6"/>
<circle cx="1286.5" cy="1059.3" r="3.6"/>
<circle cx="1286.5" cy="1066.9" r="3.6"/>
<circle cx="1292.5" cy="1066.7" r="3.6"/>
<circle cx="1280.8" cy="1074.5" r="3.6"/>
<circle cx="1286.5" cy="1077.2" r="3.6"/>
<circle cx="1298.2" cy="1074.9" r="3.6"/>
<circle cx="1292.5" cy="1080.6" r="3.6"/>
<circle cx="1275.0" cy="1082.7" r="3.6"/>
<circle cx="1280.8" cy="1085.0" r="3.6"/>
<circle cx="1298.2" cy="1083.5" r="3.6"/>
<circle cx="1286.5" cy="1088.4" r="3.6"/>
<circle cx="1275.0" cy="1094.4" r="3.6"/>
<circle cx="1280.8" cy="1093.3" r="3.6"/>
<circle cx="1292.5" cy="1095.2" r="3.6"/>
<circle cx="1298.2" cy="1092.1" r="3.6"/>
<circle cx="1303.7" cy="1094.0" r="3.6"/>
<circle cx="1286.5" cy="1098.3" r="3.6"/>
<circle cx="1280.8" cy="1108.4" r="3.6"/>
<circle cx="1286.5" cy="1106.4" r="3.6"/>
<circle cx="1298.2" cy="1105.9" r="3.6"/>
<circle cx="1292.5" cy="1111.3" r="3.6"/>
<circle cx="1275.0" cy="1115.7" r="3.6"/>
<circle cx="1292.5" cy="1119.6" r="3.6"/>
<circle cx="1298.2" cy="1120.6" r="3.6"/>
<circle cx="1303.7" cy="1118.4" r="3.6"/>
<circle cx="1275.0" cy="1124.3" r="3.6"/>
<circle cx="1280.8" cy="1122.0" r="3.6"/>
<circle cx="1286.5" cy="1129.3" r="3.6"/>
<circle cx="1292.5" cy="1129.1" r="3.6"/>
<circle cx="1298.2" cy="1129.5" r="3.6"/>
<circle cx="1303.7" cy="1126.4" r="3.6"/>
<circle cx="1310.1" cy="1125.0" r="3.6"/>
<circle cx="1275.0" cy="1133.0" r="3.6"/>
<circle cx="1286.5" cy="1137.9" r="3.6"/>
<circle cx="1275.0" cy="1143.0" r="3.6"/>
<circle cx="1298.2" cy="1143.0" r="3.6"/>
<circle cx="1286.5" cy="1149.0" r="3.6"/>
<circle cx="1292.3" cy="1148.4" r="3.6"/>
<circle cx="1281.1" cy="1153.7" r="3.6"/>
<circle cx="1292.3" cy="1156.5" r="3.6"/>
<circle cx="1298.3" cy="1153.3" r="3.6"/>
<circle cx="1303.9" cy="1153.7" r="3.6"/>
<circle cx="1289.5" cy="1170.3" r="3.6"/>
<circle cx="883.5" cy="796.9" r="3.6"/>
<circle cx="886.0" cy="796.9" r="3.6"/>
<circle cx="883.4" cy="826.4" r="3.6"/>
<circle cx="885.8" cy="831.0" r="3.6"/>
<circle cx="884.2" cy="840.5" r="3.6"/>
<circle cx="884.2" cy="859.2" r="3.6"/>
<circle cx="886.7" cy="871.0" r="3.6"/>
<circle cx="881.3" cy="873.9" r="3.6"/>
<circle cx="886.7" cy="878.0" r="3.6"/>
<circle cx="882.0" cy="878.1" r="3.6"/>
<circle cx="879.7" cy="885.1" r="3.6"/>
<circle cx="885.1" cy="882.8" r="3.6"/>
<circle cx="888.2" cy="889.0" r="3.6"/>
<circle cx="889.8" cy="891.3" r="3.6"/>
<circle cx="884.4" cy="894.0" r="3.6"/>
<circle cx="884.4" cy="903.2" r="3.6"/>
<circle cx="878.6" cy="908.6" r="3.6"/>
<circle cx="890.5" cy="908.2" r="3.6"/>
<circle cx="884.4" cy="910.6" r="3.6"/>
<circle cx="880.5" cy="916.7" r="3.6"/>
<circle cx="888.2" cy="919.7" r="3.6"/>
<circle cx="882.8" cy="922.1" r="3.6"/>
<circle cx="881.3" cy="928.3" r="3.6"/>
<circle cx="890.5" cy="930.2" r="3.6"/>
<circle cx="878.2" cy="933.7" r="3.6"/>
<circle cx="885.1" cy="932.9" r="3.6"/>
<circle cx="884.4" cy="938.3" r="3.6"/>
<circle cx="878.2" cy="945.3" r="3.6"/>
<circle cx="889.0" cy="943.7" r="3.6"/>
<circle cx="884.4" cy="947.6" r="3.6"/>
<circle cx="884.3" cy="1109.5" r="3.6"/>
<circle cx="885.8" cy="1120.5" r="3.6"/>
<circle cx="883.4" cy="1124.2" r="3.6"/>
<circle cx="884.6" cy="1133.9" r="3.6"/>
<circle cx="888.2" cy="1136.3" r="3.6"/>
<circle cx="880.9" cy="1141.2" r="3.6"/>
<circle cx="884.3" cy="1144.3" r="3.6"/>
<circle cx="884.3" cy="1157.1" r="3.6"/>
<circle cx="884.3" cy="905.9" r="3.6"/>
<circle cx="884.7" cy="905.9" r="3.6"/>
<circle cx="882.4" cy="909.7" r="3.6"/>
<circle cx="884.4" cy="909.7" r="3.6"/>
<circle cx="886.3" cy="909.7" r="3.6"/>
<circle cx="883.0" cy="913.5" r="3.6"/>
<circle cx="885.2" cy="913.5" r="3.6"/>
<circle cx="883.7" cy="917.3" r="3.6"/>
<circle cx="885.3" cy="917.3" r="3.6"/>
<circle cx="884.0" cy="921.1" r="3.6"/>
<circle cx="885.9" cy="921.1" r="3.6"/>
<circle cx="883.5" cy="924.9" r="3.6"/>
<circle cx="886.1" cy="924.9" r="3.6"/>
<circle cx="882.9" cy="928.7" r="3.6"/>
<circle cx="886.3" cy="928.7" r="3.6"/>
<circle cx="882.6" cy="932.5" r="3.6"/>
<circle cx="886.3" cy="932.5" r="3.6"/>
<circle cx="882.4" cy="936.3" r="3.6"/>
<circle cx="886.0" cy="936.3" r="3.6"/>
<circle cx="882.2" cy="940.1" r="3.6"/>
<circle cx="885.8" cy="940.1" r="3.6"/>
<circle cx="882.3" cy="943.9" r="3.6"/>
<circle cx="885.0" cy="943.9" r="3.6"/>
<circle cx="882.5" cy="947.7" r="3.6"/>
<circle cx="884.3" cy="947.7" r="3.6"/>
<circle cx="876.1" cy="951.5" r="3.6"/>
<circle cx="879.3" cy="951.5" r="3.6"/>
<circle cx="882.5" cy="951.5" r="3.6"/>
<circle cx="885.7" cy="951.5" r="3.6"/>
<circle cx="888.9" cy="951.5" r="3.6"/>
<circle cx="892.1" cy="951.5" r="3.6"/>
<circle cx="868.5" cy="955.3" r="3.6"/>
<circle cx="872.0" cy="955.3" r="3.6"/>
<circle cx="875.6" cy="955.3" r="3.6"/>
<circle cx="879.1" cy="955.3" r="3.6"/>
<circle cx="882.6" cy="955.3" r="3.6"/>
<circle cx="886.2" cy="955.3" r="3.6"/>
<circle cx="889.7" cy="955.3" r="3.6"/>
<circle cx="893.2" cy="955.3" r="3.6"/>
<circle cx="896.8" cy="955.3" r="3.6"/>
<circle cx="900.3" cy="955.3" r="3.6"/>
<circle cx="862.4" cy="959.1" r="3.6"/>
<circle cx="866.1" cy="959.1" r="3.6"/>
<circle cx="869.7" cy="959.1" r="3.6"/>
<circle cx="873.4" cy="959.1" r="3.6"/>
<circle cx="877.1" cy="959.1" r="3.6"/>
<circle cx="880.7" cy="959.1" r="3.6"/>
<circle cx="884.4" cy="959.1" r="3.6"/>
<circle cx="888.1" cy="959.1" r="3.6"/>
<circle cx="891.7" cy="959.1" r="3.6"/>
<circle cx="895.4" cy="959.1" r="3.6"/>
<circle cx="899.1" cy="959.1" r="3.6"/>
<circle cx="902.7" cy="959.1" r="3.6"/>
<circle cx="906.4" cy="959.1" r="3.6"/>
<circle cx="859.3" cy="962.9" r="3.6"/>
<circle cx="862.8" cy="962.9" r="3.6"/>
<circle cx="866.4" cy="962.9" r="3.6"/>
<circle cx="870.0" cy="962.9" r="3.6"/>
<circle cx="873.6" cy="962.9" r="3.6"/>
<circle cx="877.2" cy="962.9" r="3.6"/>
<circle cx="880.8" cy="962.9" r="3.6"/>
<circle cx="884.4" cy="962.9" r="3.6"/>
<circle cx="888.0" cy="962.9" r="3.6"/>
<circle cx="891.6" cy="962.9" r="3.6"/>
<circle cx="895.2" cy="962.9" r="3.6"/>
<circle cx="898.8" cy="962.9" r="3.6"/>
<circle cx="902.4" cy="962.9" r="3.6"/>
<circle cx="906.0" cy="962.9" r="3.6"/>
<circle cx="909.5" cy="962.9" r="3.6"/>
<circle cx="858.3" cy="966.7" r="3.6"/>
<circle cx="862.0" cy="966.7" r="3.6"/>
<circle cx="865.8" cy="966.7" r="3.6"/>
<circle cx="869.5" cy="966.7" r="3.6"/>
<circle cx="873.2" cy="966.7" r="3.6"/>
<circle cx="876.9" cy="966.7" r="3.6"/>
<circle cx="880.7" cy="966.7" r="3.6"/>
<circle cx="884.4" cy="966.7" r="3.6"/>
<circle cx="888.1" cy="966.7" r="3.6"/>
<circle cx="891.9" cy="966.7" r="3.6"/>
<circle cx="895.6" cy="966.7" r="3.6"/>
<circle cx="899.3" cy="966.7" r="3.6"/>
<circle cx="903.0" cy="966.7" r="3.6"/>
<circle cx="906.8" cy="966.7" r="3.6"/>
<circle cx="910.5" cy="966.7" r="3.6"/>
<circle cx="857.4" cy="970.5" r="3.6"/>
<circle cx="860.9" cy="970.5" r="3.6"/>
<circle cx="864.5" cy="970.5" r="3.6"/>
<circle cx="868.1" cy="970.5" r="3.6"/>
<circle cx="871.6" cy="970.5" r="3.6"/>
<circle cx="875.2" cy="970.5" r="3.6"/>
<circle cx="878.8" cy="970.5" r="3.6"/>
<circle cx="882.3" cy="970.5" r="3.6"/>
<circle cx="885.9" cy="970.5" r="3.6"/>
<circle cx="889.5" cy="970.5" r="3.6"/>
<circle cx="893.0" cy="970.5" r="3.6"/>
<circle cx="896.6" cy="970.5" r="3.6"/>
<circle cx="900.2" cy="970.5" r="3.6"/>
<circle cx="903.7" cy="970.5" r="3.6"/>
<circle cx="907.3" cy="970.5" r="3.6"/>
<circle cx="910.9" cy="970.5" r="3.6"/>
<circle cx="856.4" cy="974.3" r="3.6"/>
<circle cx="859.9" cy="974.3" r="3.6"/>
<circle cx="863.5" cy="974.3" r="3.6"/>
<circle cx="867.0" cy="974.3" r="3.6"/>
<circle cx="870.6" cy="974.3" r="3.6"/>
<circle cx="874.1" cy="974.3" r="3.6"/>
<circle cx="877.7" cy="974.3" r="3.6"/>
<circle cx="881.2" cy="974.3" r="3.6"/>
<circle cx="884.8" cy="974.3" r="3.6"/>
<circle cx="888.3" cy="974.3" r="3.6"/>
<circle cx="891.9" cy="974.3" r="3.6"/>
<circle cx="895.4" cy="974.3" r="3.6"/>
<circle cx="899.0" cy="974.3" r="3.6"/>
<circle cx="902.5" cy="974.3" r="3.6"/>
<circle cx="906.1" cy="974.3" r="3.6"/>
<circle cx="909.6" cy="974.3" r="3.6"/>
<circle cx="855.4" cy="978.1" r="3.6"/>
<circle cx="859.2" cy="978.1" r="3.6"/>
<circle cx="863.0" cy="978.1" r="3.6"/>
<circle cx="866.8" cy="978.1" r="3.6"/>
<circle cx="870.5" cy="978.1" r="3.6"/>
<circle cx="874.3" cy="978.1" r="3.6"/>
<circle cx="878.1" cy="978.1" r="3.6"/>
<circle cx="881.9" cy="978.1" r="3.6"/>
<circle cx="885.7" cy="978.1" r="3.6"/>
<circle cx="889.4" cy="978.1" r="3.6"/>
<circle cx="893.2" cy="978.1" r="3.6"/>
<circle cx="897.0" cy="978.1" r="3.6"/>
<circle cx="900.8" cy="978.1" r="3.6"/>
<circle cx="904.6" cy="978.1" r="3.6"/>
<circle cx="908.3" cy="978.1" r="3.6"/>
<circle cx="846.0" cy="981.9" r="3.6"/>
<circle cx="849.7" cy="981.9" r="3.6"/>
<circle cx="853.4" cy="981.9" r="3.6"/>
<circle cx="857.2" cy="981.9" r="3.6"/>
<circle cx="860.9" cy="981.9" r="3.6"/>
<circle cx="864.6" cy="981.9" r="3.6"/>
<circle cx="868.3" cy="981.9" r="3.6"/>
<circle cx="872.1" cy="981.9" r="3.6"/>
<circle cx="875.8" cy="981.9" r="3.6"/>
<circle cx="879.5" cy="981.9" r="3.6"/>
<circle cx="883.3" cy="981.9" r="3.6"/>
<circle cx="887.0" cy="981.9" r="3.6"/>
<circle cx="890.7" cy="981.9" r="3.6"/>
<circle cx="894.5" cy="981.9" r="3.6"/>
<circle cx="898.2" cy="981.9" r="3.6"/>
<circle cx="901.9" cy="981.9" r="3.6"/>
<circle cx="905.6" cy="981.9" r="3.6"/>
<circle cx="909.4" cy="981.9" r="3.6"/>
<circle cx="913.1" cy="981.9" r="3.6"/>
<circle cx="916.8" cy="981.9" r="3.6"/>
<circle cx="920.6" cy="981.9" r="3.6"/>
<circle cx="842.8" cy="985.7" r="3.6"/>
<circle cx="846.5" cy="985.7" r="3.6"/>
<circle cx="850.3" cy="985.7" r="3.6"/>
<circle cx="854.0" cy="985.7" r="3.6"/>
<circle cx="857.8" cy="985.7" r="3.6"/>
<circle cx="861.5" cy="985.7" r="3.6"/>
<circle cx="865.3" cy="985.7" r="3.6"/>
<circle cx="869.1" cy="985.7" r="3.6"/>
<circle cx="872.8" cy="985.7" r="3.6"/>
<circle cx="876.6" cy="985.7" r="3.6"/>
<circle cx="880.3" cy="985.7" r="3.6"/>
<circle cx="884.1" cy="985.7" r="3.6"/>
<circle cx="887.8" cy="985.7" r="3.6"/>
<circle cx="891.6" cy="985.7" r="3.6"/>
<circle cx="895.3" cy="985.7" r="3.6"/>
<circle cx="899.1" cy="985.7" r="3.6"/>
<circle cx="902.8" cy="985.7" r="3.6"/>
<circle cx="906.6" cy="985.7" r="3.6"/>
<circle cx="910.3" cy="985.7" r="3.6"/>
<circle cx="914.1" cy="985.7" r="3.6"/>
<circle cx="917.9" cy="985.7" r="3.6"/>
<circle cx="921.6" cy="985.7" r="3.6"/>
<circle cx="925.4" cy="985.7" r="3.6"/>
<circle cx="842.3" cy="989.5" r="3.6"/>
<circle cx="845.9" cy="989.5" r="3.6"/>
<circle cx="849.6" cy="989.5" r="3.6"/>
<circle cx="853.3" cy="989.5" r="3.6"/>
<circle cx="856.9" cy="989.5" r="3.6"/>
<circle cx="860.6" cy="989.5" r="3.6"/>
<circle cx="864.3" cy="989.5" r="3.6"/>
<circle cx="867.9" cy="989.5" r="3.6"/>
<circle cx="871.6" cy="989.5" r="3.6"/>
<circle cx="875.3" cy="989.5" r="3.6"/>
<circle cx="878.9" cy="989.5" r="3.6"/>
<circle cx="882.6" cy="989.5" r="3.6"/>
<circle cx="886.3" cy="989.5" r="3.6"/>
<circle cx="889.9" cy="989.5" r="3.6"/>
<circle cx="893.6" cy="989.5" r="3.6"/>
<circle cx="897.3" cy="989.5" r="3.6"/>
<circle cx="901.0" cy="989.5" r="3.6"/>
<circle cx="904.6" cy="989.5" r="3.6"/>
<circle cx="908.3" cy="989.5" r="3.6"/>
<circle cx="912.0" cy="989.5" r="3.6"/>
<circle cx="915.6" cy="989.5" r="3.6"/>
<circle cx="919.3" cy="989.5" r="3.6"/>
<circle cx="923.0" cy="989.5" r="3.6"/>
<circle cx="926.6" cy="989.5" r="3.6"/>
<circle cx="847.3" cy="993.3" r="3.6"/>
<circle cx="851.1" cy="993.3" r="3.6"/>
<circle cx="854.8" cy="993.3" r="3.6"/>
<circle cx="858.6" cy="993.3" r="3.6"/>
<circle cx="862.3" cy="993.3" r="3.6"/>
<circle cx="866.1" cy="993.3" r="3.6"/>
<circle cx="869.8" cy="993.3" r="3.6"/>
<circle cx="873.6" cy="993.3" r="3.6"/>
<circle cx="877.4" cy="993.3" r="3.6"/>
<circle cx="881.1" cy="993.3" r="3.6"/>
<circle cx="884.9" cy="993.3" r="3.6"/>
<circle cx="888.6" cy="993.3" r="3.6"/>
<circle cx="892.4" cy="993.3" r="3.6"/>
<circle cx="896.1" cy="993.3" r="3.6"/>
<circle cx="899.9" cy="993.3" r="3.6"/>
<circle cx="903.6" cy="993.3" r="3.6"/>
<circle cx="907.4" cy="993.3" r="3.6"/>
<circle cx="911.2" cy="993.3" r="3.6"/>
<circle cx="914.9" cy="993.3" r="3.6"/>
<circle cx="918.7" cy="993.3" r="3.6"/>
<circle cx="922.4" cy="993.3" r="3.6"/>
<circle cx="851.0" cy="997.1" r="3.6"/>
<circle cx="854.7" cy="997.1" r="3.6"/>
<circle cx="858.5" cy="997.1" r="3.6"/>
<circle cx="862.2" cy="997.1" r="3.6"/>
<circle cx="866.0" cy="997.1" r="3.6"/>
<circle cx="869.8" cy="997.1" r="3.6"/>
<circle cx="873.5" cy="997.1" r="3.6"/>
<circle cx="877.3" cy="997.1" r="3.6"/>
<circle cx="881.1" cy="997.1" r="3.6"/>
<circle cx="884.8" cy="997.1" r="3.6"/>
<circle cx="888.6" cy="997.1" r="3.6"/>
<circle cx="892.3" cy="997.1" r="3.6"/>
<circle cx="896.1" cy="997.1" r="3.6"/>
<circle cx="899.9" cy="997.1" r="3.6"/>
<circle cx="903.6" cy="997.1" r="3.6"/>
<circle cx="907.4" cy="997.1" r="3.6"/>
<circle cx="911.2" cy="997.1" r="3.6"/>
<circle cx="914.9" cy="997.1" r="3.6"/>
<circle cx="918.7" cy="997.1" r="3.6"/>
<circle cx="853.5" cy="1000.9" r="3.6"/>
<circle cx="857.1" cy="1000.9" r="3.6"/>
<circle cx="860.7" cy="1000.9" r="3.6"/>
<circle cx="864.3" cy="1000.9" r="3.6"/>
<circle cx="867.9" cy="1000.9" r="3.6"/>
<circle cx="871.6" cy="1000.9" r="3.6"/>
<circle cx="875.2" cy="1000.9" r="3.6"/>
<circle cx="878.8" cy="1000.9" r="3.6"/>
<circle cx="882.4" cy="1000.9" r="3.6"/>
<circle cx="886.0" cy="1000.9" r="3.6"/>
<circle cx="889.6" cy="1000.9" r="3.6"/>
<circle cx="893.2" cy="1000.9" r="3.6"/>
<circle cx="896.8" cy="1000.9" r="3.6"/>
<circle cx="900.4" cy="1000.9" r="3.6"/>
<circle cx="904.0" cy="1000.9" r="3.6"/>
<circle cx="907.6" cy="1000.9" r="3.6"/>
<circle cx="911.2" cy="1000.9" r="3.6"/>
<circle cx="914.8" cy="1000.9" r="3.6"/>
<circle cx="860.2" cy="1004.7" r="3.6"/>
<circle cx="863.8" cy="1004.7" r="3.6"/>
<circle cx="867.5" cy="1004.7" r="3.6"/>
<circle cx="871.2" cy="1004.7" r="3.6"/>
<circle cx="874.9" cy="1004.7" r="3.6"/>
<circle cx="878.6" cy="1004.7" r="3.6"/>
<circle cx="882.2" cy="1004.7" r="3.6"/>
<circle cx="885.9" cy="1004.7" r="3.6"/>
<circle cx="889.6" cy="1004.7" r="3.6"/>
<circle cx="893.3" cy="1004.7" r="3.6"/>
<circle cx="897.0" cy="1004.7" r="3.6"/>
<circle cx="900.6" cy="1004.7" r="3.6"/>
<circle cx="904.3" cy="1004.7" r="3.6"/>
<circle cx="908.0" cy="1004.7" r="3.6"/>
<circle cx="865.9" cy="1008.5" r="3.6"/>
<circle cx="869.5" cy="1008.5" r="3.6"/>
<circle cx="873.2" cy="1008.5" r="3.6"/>
<circle cx="876.8" cy="1008.5" r="3.6"/>
<circle cx="880.5" cy="1008.5" r="3.6"/>
<circle cx="884.1" cy="1008.5" r="3.6"/>
<circle cx="887.7" cy="1008.5" r="3.6"/>
<circle cx="891.4" cy="1008.5" r="3.6"/>
<circle cx="895.0" cy="1008.5" r="3.6"/>
<circle cx="898.7" cy="1008.5" r="3.6"/>
<circle cx="902.3" cy="1008.5" r="3.6"/>
<circle cx="870.0" cy="1012.3" r="3.6"/>
<circle cx="873.6" cy="1012.3" r="3.6"/>
<circle cx="877.1" cy="1012.3" r="3.6"/>
<circle cx="880.6" cy="1012.3" r="3.6"/>
<circle cx="884.1" cy="1012.3" r="3.6"/>
<circle cx="887.6" cy="1012.3" r="3.6"/>
<circle cx="891.2" cy="1012.3" r="3.6"/>
<circle cx="894.7" cy="1012.3" r="3.6"/>
<circle cx="898.2" cy="1012.3" r="3.6"/>
<circle cx="869.5" cy="1016.1" r="3.6"/>
<circle cx="873.2" cy="1016.1" r="3.6"/>
<circle cx="876.9" cy="1016.1" r="3.6"/>
<circle cx="880.6" cy="1016.1" r="3.6"/>
<circle cx="884.3" cy="1016.1" r="3.6"/>
<circle cx="888.0" cy="1016.1" r="3.6"/>
<circle cx="891.7" cy="1016.1" r="3.6"/>
<circle cx="895.4" cy="1016.1" r="3.6"/>
<circle cx="899.1" cy="1016.1" r="3.6"/>
<circle cx="870.7" cy="1019.9" r="3.6"/>
<circle cx="874.1" cy="1019.9" r="3.6"/>
<circle cx="877.5" cy="1019.9" r="3.6"/>
<circle cx="880.9" cy="1019.9" r="3.6"/>
<circle cx="884.3" cy="1019.9" r="3.6"/>
<circle cx="887.7" cy="1019.9" r="3.6"/>
<circle cx="891.1" cy="1019.9" r="3.6"/>
<circle cx="894.5" cy="1019.9" r="3.6"/>
<circle cx="897.9" cy="1019.9" r="3.6"/>
<circle cx="873.0" cy="1023.7" r="3.6"/>
<circle cx="876.7" cy="1023.7" r="3.6"/>
<circle cx="880.4" cy="1023.7" r="3.6"/>
<circle cx="884.0" cy="1023.7" r="3.6"/>
<circle cx="887.7" cy="1023.7" r="3.6"/>
<circle cx="891.4" cy="1023.7" r="3.6"/>
<circle cx="895.0" cy="1023.7" r="3.6"/>
<circle cx="875.0" cy="1027.5" r="3.6"/>
<circle cx="878.5" cy="1027.5" r="3.6"/>
<circle cx="882.0" cy="1027.5" r="3.6"/>
<circle cx="885.5" cy="1027.5" r="3.6"/>
<circle cx="889.0" cy="1027.5" r="3.6"/>
<circle cx="892.5" cy="1027.5" r="3.6"/>
<circle cx="876.9" cy="1031.3" r="3.6"/>
<circle cx="880.2" cy="1031.3" r="3.6"/>
<circle cx="883.4" cy="1031.3" r="3.6"/>
<circle cx="886.7" cy="1031.3" r="3.6"/>
<circle cx="890.0" cy="1031.3" r="3.6"/>
<circle cx="877.1" cy="1035.1" r="3.6"/>
<circle cx="880.4" cy="1035.1" r="3.6"/>
<circle cx="883.7" cy="1035.1" r="3.6"/>
<circle cx="886.9" cy="1035.1" r="3.6"/>
<circle cx="890.2" cy="1035.1" r="3.6"/>
<circle cx="876.8" cy="1038.9" r="3.6"/>
<circle cx="880.5" cy="1038.9" r="3.6"/>
<circle cx="884.1" cy="1038.9" r="3.6"/>
<circle cx="887.8" cy="1038.9" r="3.6"/>
<circle cx="891.5" cy="1038.9" r="3.6"/>
<circle cx="877.3" cy="1042.7" r="3.6"/>
<circle cx="880.7" cy="1042.7" r="3.6"/>
<circle cx="884.2" cy="1042.7" r="3.6"/>
<circle cx="887.7" cy="1042.7" r="3.6"/>
<circle cx="891.2" cy="1042.7" r="3.6"/>
<circle cx="878.9" cy="1046.5" r="3.6"/>
<circle cx="882.1" cy="1046.5" r="3.6"/>
<circle cx="885.4" cy="1046.5" r="3.6"/>
<circle cx="888.7" cy="1046.5" r="3.6"/>
<circle cx="880.3" cy="1050.3" r="3.6"/>
<circle cx="883.4" cy="1050.3" r="3.6"/>
<circle cx="886.4" cy="1050.3" r="3.6"/>
<circle cx="880.6" cy="1054.1" r="3.6"/>
<circle cx="883.5" cy="1054.1" r="3.6"/>
<circle cx="886.4" cy="1054.1" r="3.6"/>
<circle cx="880.9" cy="1057.9" r="3.6"/>
<circle cx="883.7" cy="1057.9" r="3.6"/>
<circle cx="886.4" cy="1057.9" r="3.6"/>
<circle cx="880.2" cy="1061.7" r="3.6"/>
<circle cx="883.9" cy="1061.7" r="3.6"/>
<circle cx="887.6" cy="1061.7" r="3.6"/>
<circle cx="879.3" cy="1065.5" r="3.6"/>
<circle cx="882.6" cy="1065.5" r="3.6"/>
<circle cx="885.9" cy="1065.5" r="3.6"/>
<circle cx="889.2" cy="1065.5" r="3.6"/>
<circle cx="879.9" cy="1069.3" r="3.6"/>
<circle cx="882.9" cy="1069.3" r="3.6"/>
<circle cx="885.9" cy="1069.3" r="3.6"/>
<circle cx="888.9" cy="1069.3" r="3.6"/>
<circle cx="882.2" cy="1073.1" r="3.6"/>
<circle cx="884.4" cy="1073.1" r="3.6"/>
<circle cx="886.7" cy="1073.1" r="3.6"/>
<circle cx="884.0" cy="1076.9" r="3.6"/>
<circle cx="884.9" cy="1076.9" r="3.6"/>
<circle cx="884.0" cy="1080.7" r="3.6"/>
<circle cx="884.9" cy="1080.7" r="3.6"/>
<circle cx="884.0" cy="1084.5" r="3.6"/>
<circle cx="884.9" cy="1084.5" r="3.6"/>
<circle cx="883.6" cy="1088.3" r="3.6"/>
<circle cx="885.2" cy="1088.3" r="3.6"/>
<circle cx="883.2" cy="1092.1" r="3.6"/>
<circle cx="885.6" cy="1092.1" r="3.6"/>
<circle cx="882.3" cy="904.8" r="3.6"/>
<circle cx="879.7" cy="910.3" r="3.6"/>
<circle cx="881.1" cy="915.8" r="3.6"/>
<circle cx="880.6" cy="920.2" r="3.6"/>
<circle cx="880.2" cy="926.3" r="3.6"/>
<circle cx="881.2" cy="931.1" r="3.6"/>
<circle cx="880.6" cy="936.3" r="3.6"/>
<circle cx="880.1" cy="941.6" r="3.6"/>
<circle cx="880.2" cy="946.2" r="3.6"/>
<circle cx="871.5" cy="952.4" r="3.6"/>
<circle cx="861.6" cy="958.3" r="3.6"/>
<circle cx="857.4" cy="962.6" r="3.6"/>
<circle cx="855.0" cy="968.2" r="3.6"/>
<circle cx="855.2" cy="972.5" r="3.6"/>
<circle cx="853.5" cy="977.7" r="3.6"/>
<circle cx="841.0" cy="984.0" r="3.6"/>
<circle cx="839.9" cy="990.3" r="3.6"/>
<circle cx="847.8" cy="996.3" r="3.6"/>
<circle cx="854.5" cy="1002.7" r="3.6"/>
<circle cx="860.9" cy="1007.1" r="3.6"/>
<circle cx="868.5" cy="1011.8" r="3.6"/>
<circle cx="867.2" cy="1017.0" r="3.6"/>
<circle cx="869.4" cy="1021.9" r="3.6"/>
<circle cx="871.9" cy="1027.0" r="3.6"/>
<circle cx="875.1" cy="1032.5" r="3.6"/>
<circle cx="874.7" cy="1038.8" r="3.6"/>
<circle cx="876.6" cy="1045.1" r="3.6"/>
<circle cx="878.3" cy="1051.6" r="3.6"/>
<circle cx="879.1" cy="1056.2" r="3.6"/>
<circle cx="878.4" cy="1062.6" r="3.6"/>
<circle cx="877.2" cy="1068.1" r="3.6"/>
<circle cx="880.2" cy="1072.8" r="3.6"/>
<circle cx="881.0" cy="1078.3" r="3.6"/>
<circle cx="882.3" cy="1082.7" r="3.6"/>
<circle cx="880.1" cy="1089.2" r="3.6"/>
<circle cx="882.4" cy="1095.2" r="3.6"/>
<circle cx="886.6" cy="904.8" r="3.6"/>
<circle cx="887.7" cy="910.8" r="3.6"/>
<circle cx="887.1" cy="915.1" r="3.6"/>
<circle cx="887.7" cy="919.4" r="3.6"/>
<circle cx="887.7" cy="924.3" r="3.6"/>
<circle cx="888.8" cy="930.8" r="3.6"/>
<circle cx="888.9" cy="937.3" r="3.6"/>
<circle cx="887.7" cy="941.7" r="3.6"/>
<circle cx="887.8" cy="945.9" r="3.6"/>
<circle cx="893.3" cy="951.1" r="3.6"/>
<circle cx="904.4" cy="955.6" r="3.6"/>
<circle cx="912.2" cy="961.8" r="3.6"/>
<circle cx="912.5" cy="968.2" r="3.6"/>
<circle cx="912.5" cy="973.3" r="3.6"/>
<circle cx="912.4" cy="978.7" r="3.6"/>
<circle cx="927.3" cy="984.3" r="3.6"/>
<circle cx="928.3" cy="989.9" r="3.6"/>
<circle cx="922.8" cy="995.3" r="3.6"/>
<circle cx="917.7" cy="1001.1" r="3.6"/>
<circle cx="906.8" cy="1006.0" r="3.6"/>
<circle cx="901.1" cy="1011.4" r="3.6"/>
<circle cx="901.7" cy="1015.6" r="3.6"/>
<circle cx="900.5" cy="1021.2" r="3.6"/>
<circle cx="895.2" cy="1026.8" r="3.6"/>
<circle cx="892.3" cy="1031.1" r="3.6"/>
<circle cx="892.8" cy="1036.4" r="3.6"/>
<circle cx="894.0" cy="1041.4" r="3.6"/>
<circle cx="891.7" cy="1047.3" r="3.6"/>
<circle cx="888.5" cy="1051.6" r="3.6"/>
<circle cx="889.4" cy="1058.1" r="3.6"/>
<circle cx="890.6" cy="1063.3" r="3.6"/>
<circle cx="892.3" cy="1068.2" r="3.6"/>
<circle cx="889.4" cy="1073.2" r="3.6"/>
<circle cx="887.8" cy="1078.7" r="3.6"/>
<circle cx="886.8" cy="1083.8" r="3.6"/>
<circle cx="887.5" cy="1088.1" r="3.6"/>
<circle cx="887.7" cy="1094.0" r="3.6"/>
</g>
<rect x="834.6" y="987.1" width="99.4" height="7.4" fill="#ed1c24"/>
<rect x="1125.5" y="1009.9" width="81.8" height="7.2" fill="#ed1c24"/>
<rect x="1248.5" y="993.3" width="82.5" height="7.4" fill="#ed1c24"/>
</svg></body></html>
